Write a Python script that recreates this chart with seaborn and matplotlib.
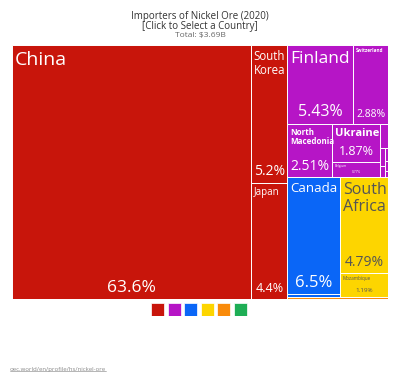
import matplotlib
matplotlib.use("Agg")
import matplotlib.pyplot as plt
import seaborn as sns
from matplotlib.lines import Line2D

# Share of world imports (%), 2020
countries = ["China", "South Korea", "Japan",
             "Finland", "Switzerland", "North Macedonia", "Ukraine", "Belgium",
             "Norway", "Germany", "Greece", "Netherlands", "Spain", "Austria",
             "Canada", "United States", "South Africa", "Mozambique", "Brazil"]
shares = [63.6, 5.20, 4.40,
          5.43, 2.88, 2.51, 1.87, 0.77,
          0.20, 0.10, 0.06, 0.04, 0.03, 0.02,
          6.50, 0.14, 4.79, 1.19, 0.22]
regions = ["Asia", "Asia", "Asia",
           "Europe", "Europe", "Europe", "Europe", "Europe",
           "Europe", "Europe", "Europe", "Europe", "Europe", "Europe",
           "North America", "North America", "Africa", "Africa", "South America"]
continents = ["Asia", "Europe", "North America", "Africa", "South America", "Oceania"]
continent_colors = ["#C8150B", "#B615C6", "#0A66F7", "#FDD500", "#F98B0B", "#1EAE55"]

share_of = dict(zip(countries, shares))
region_of = dict(zip(countries, regions))
color_of = dict(zip(continents, continent_colors))

# nesting of the treemap: "h" = side by side, "v" = stacked
tree = ("h", ["China",
              ("v", ["South Korea", "Japan"]),
              ("v", [("v", [("h", ["Finland", "Switzerland"]),
                            ("h", ["North Macedonia",
                                   ("v", ["Ukraine", "Belgium"]),
                                   ("v", ["Norway",
                                          ("h", [("v", ["Germany", "Greece"]),
                                                 ("v", ["Netherlands", "Spain", "Austria"])])])])]),
                     ("v", [("h", [("v", ["Canada", "United States"]),
                                   ("v", ["South Africa", "Mozambique"])]),
                            "Brazil"])])])


def node_value(node):
    if isinstance(node, str):
        return share_of[node]
    return sum(node_value(k) for k in node[1])


def layout(node, x, y, w, h, out):
    if isinstance(node, str):
        out[node] = (x, y, w, h)
        return
    d, kids = node
    tot = node_value(node)
    for k in kids:
        f = node_value(k) / tot
        if d == "h":
            layout(k, x, y, w * f, h, out)
            x += w * f
        else:
            layout(k, x, y, w, h * f, out)
            y += h * f


W, H = 376, 254
rects = {}
layout(tree, 0, 0, W, H, rects)

# label text, name size, pct size, bold, top padding
labels = {
    "China": ("China", 14, 12.5, False, 6),
    "South Korea": ("South\nKorea", 8.3, 10, False, 5),
    "Japan": ("Japan", 7, 9, False, 4),
    "Finland": ("Finland", 12.5, 11.5, False, 6),
    "Switzerland": ("Switzerland", 3.3, 7.5, True, 3),
    "North Macedonia": ("North\nMacedonia", 5.8, 10, True, 4),
    "Ukraine": ("Ukraine", 8, 9, True, 4),
    "Belgium": ("Belgium", 2.3, 2.3, False, 2),
    "Canada": ("Canada", 9.5, 12, False, 5),
    "South Africa": ("South\nAfrica", 11.5, 10, False, 5),
    "Mozambique": ("Mozambique", 3.3, 4.5, False, 3),
}

sns.set_style("white")
plt.rcParams["font.family"] = ["Open Sans", "DejaVu Sans"]

fig = plt.figure(figsize=(4, 3.84), dpi=100)
ax = fig.add_axes([12 / 400, 1 - 299 / 384, W / 400, H / 384])

for c in countries:
    x, y, w, h = rects[c]
    ax.bar(x, h, width=w, bottom=y, align="edge",
           color=color_of[region_of[c]], edgecolor="white", linewidth=0.7)
    if c in labels:
        text, fs_name, fs_pct, bold, pad = labels[c]
        tc = "#555555" if region_of[c] == "Africa" else "white"
        ax.text(x + 2.5, y + pad, text, ha="left", va="top", fontsize=fs_name,
                color=tc, fontweight="bold" if bold else "normal", linespacing=1.05)
        ax.text(x + w / 2, y + h - 3.5, f"{share_of[c]:.3g}%", ha="center", va="bottom",
                fontsize=fs_pct, color=tc)

ax.set_xlim(0, W)
ax.set_ylim(H, 0)
ax.axis("off")

# title
fig.text(0.5, 1 - 16 / 384, "Importers of Nickel Ore (2020)", ha="center", va="center",
         fontsize=7, color="#333333")
fig.text(0.5, 1 - 27 / 384, "[Click to Select a Country]", ha="center", va="center",
         fontsize=7, color="#333333")
fig.text(0.5, 1 - 36 / 384, "Total: $3.69B", ha="center", va="center",
         fontsize=6, color="#666666")

# continent colour keys
lax = fig.add_axes([149.2 / 400, 1 - 316 / 384, 99.6 / 400, 13 / 384])
sns.barplot(x=continents, y=[1] * len(continents), hue=continents, palette=continent_colors,
            legend=False, width=0.78, ax=lax, edgecolor="white", linewidth=0.5, saturation=1)
lax.set_xlim(-0.5, len(continents) - 0.5)
lax.set_ylim(0, 1)
lax.axis("off")

# source link (underlined)
src = fig.text(10 / 400, 1 - 369 / 384, "oec.world/en/profile/hs/nickel-ore", ha="left",
               va="center", fontsize=4.3, color="#888888")
fig.canvas.draw()
bb = src.get_window_extent().transformed(fig.transFigure.inverted())
fig.add_artist(Line2D([bb.x0, bb.x1], [bb.y0 + 0.002, bb.y0 + 0.002],
                      color="#999999", linewidth=0.5))

fig.savefig("out.png", dpi=100)
